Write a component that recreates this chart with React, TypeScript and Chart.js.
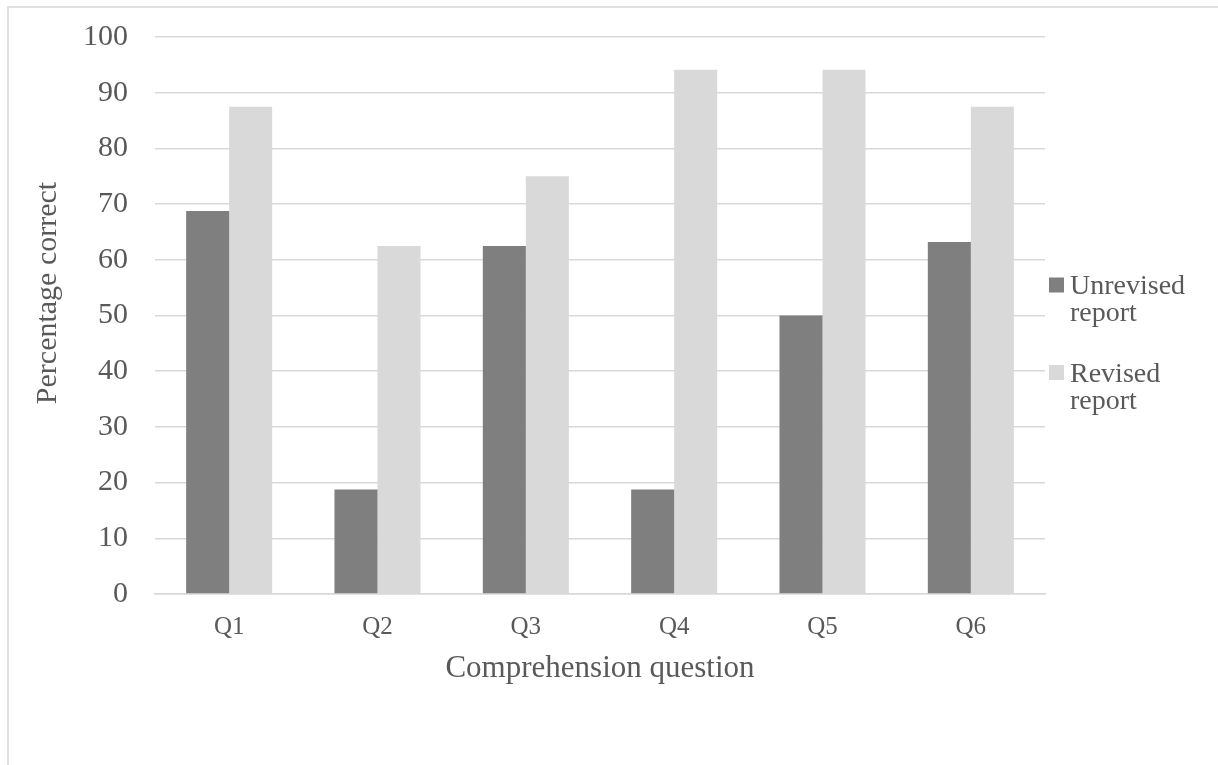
import React, { useEffect, useRef } from "react";
import { Chart, registerables } from "chart.js";

Chart.register(...registerables);

const categories = ["Q1", "Q2", "Q3", "Q4", "Q5", "Q6"];
const unrevised = [68.75, 18.75, 62.5, 18.75, 50, 63.2];
const revised = [87.5, 62.5, 75, 94.1, 94.1, 87.5];
const yTicks = [0, 10, 20, 30, 40, 50, 60, 70, 80, 90, 100];
const seriesNames = [["Unrevised", "report"], ["Revised", "report"]];
const seriesColors = ["#7f7f7f", "#d9d9d9"];
const xTitle = "Comprehension question";
const yTitle = "Percentage correct";

const FONT = '"Liberation Serif", "Times New Roman", serif';
const TEXT = "#595959";

// Axis titles and a right-side legend with wrapped labels
const decorations = {
  id: "decorations",
  afterDraw(chart: any) {
    const { ctx, chartArea } = chart;
    ctx.save();
    ctx.fillStyle = TEXT;

    // x axis title
    ctx.font = `31px ${FONT}`;
    ctx.textAlign = "center";
    ctx.textBaseline = "alphabetic";
    ctx.fillText(xTitle, (chartArea.left + chartArea.right) / 2, 677);

    // y axis title
    ctx.save();
    ctx.translate(56, 293);
    ctx.rotate(-Math.PI / 2);
    ctx.font = `30px ${FONT}`;
    ctx.textAlign = "center";
    ctx.fillText(yTitle, 0, 0);
    ctx.restore();

    // legend
    ctx.font = `28px ${FONT}`;
    ctx.textAlign = "left";
    const startY = [285, 372.5];
    chart.data.datasets.forEach((ds: any, i: number) => {
      const cy = startY[i];
      ctx.fillStyle = ds.backgroundColor;
      ctx.fillRect(chartArea.right + 4, cy - 7.5, 15, 15);
      ctx.fillStyle = TEXT;
      seriesNames[i].forEach((line, j) => {
        ctx.fillText(line, chartArea.right + 25, cy + 9 + j * 27);
      });
    });
    ctx.restore();
  },
};

export default function App() {
  const ref = useRef<HTMLCanvasElement>(null);

  useEffect(() => {
    if (!ref.current) return;
    const chart = new Chart(ref.current, {
      type: "bar",
      data: {
        labels: categories,
        datasets: [
          { label: seriesNames[0].join(" "), data: unrevised, backgroundColor: seriesColors[0] },
          { label: seriesNames[1].join(" "), data: revised, backgroundColor: seriesColors[1] },
        ],
      },
      plugins: [decorations],
      options: {
        responsive: false,
        animation: false,
        layout: { padding: { top: 37, right: 173, left: 0, bottom: 0 } },
        datasets: {
          bar: { categoryPercentage: 0.58, barPercentage: 1.0 },
        },
        plugins: {
          legend: { display: false },
          tooltip: { enabled: false },
        },
        scales: {
          x: {
            grid: { display: false, drawTicks: false },
            border: { display: true, color: "#d9d9d9", width: 1.5 },
            ticks: {
              color: TEXT,
              font: { family: FONT, size: 25 },
              padding: 18,
            },
            afterFit(scale: any) {
              scale.height = 765 - 594;
              scale.paddingLeft = 0;
              scale.paddingRight = 0;
            },
          },
          y: {
            min: 0,
            max: 100,
            afterBuildTicks(scale: any) {
              scale.ticks = yTicks.map((v) => ({ value: v }));
            },
            grid: { color: "#d9d9d9", lineWidth: 1.5, drawTicks: false },
            border: { display: false },
            ticks: {
              color: TEXT,
              font: { family: FONT, size: 30 },
              padding: 27,
            },
            afterFit(scale: any) {
              scale.width = 155;
              scale.paddingTop = 0;
              scale.paddingBottom = 0;
            },
          },
        },
      },
    });
    return () => chart.destroy();
  }, []);

  return (
    <div>
      <div
        style={{
          position: "fixed",
          left: 7,
          top: 6,
          width: 1300,
          height: 900,
          borderLeft: "2px solid #e0e0e0",
          borderTop: "2px solid #e0e0e0",
          boxSizing: "border-box",
        }}
      />
      <canvas
        ref={ref}
        width={1218}
        height={765}
        style={{ position: "fixed", left: 0, top: 0, width: 1218, height: 765 }}
      />
    </div>
  );
}
